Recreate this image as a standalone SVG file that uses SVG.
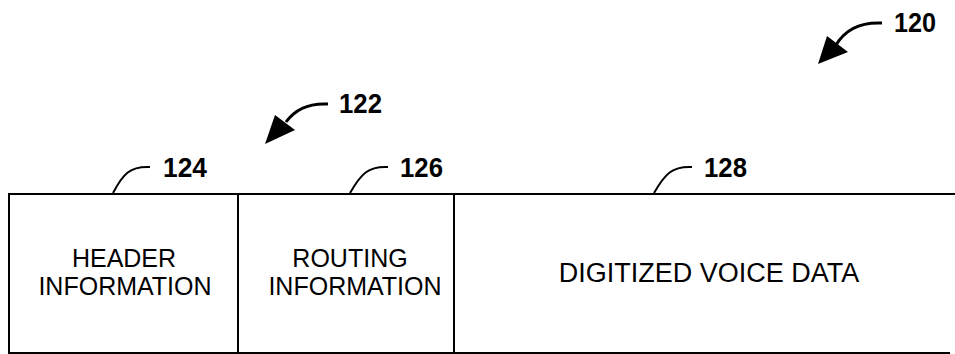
<svg xmlns="http://www.w3.org/2000/svg" width="955" height="354" viewBox="0 0 955 354">
<style>
.ln{fill:none;stroke:#000;stroke-width:2}
.ar{fill:none;stroke:#000;stroke-width:3}
.num{font-family:"Liberation Sans",Arial,sans-serif;font-weight:bold;font-size:28px;fill:#000}
.lbl{font-family:"Liberation Sans",Arial,sans-serif;font-size:25px;fill:#000;text-anchor:middle}
.head{fill:#000}
</style>
<rect width="955" height="354" fill="#fff"/>
<g id="connectors">
<path class="ar" d="M882,23 C862,22 846,28 836,45"/>
<polygon class="head" points="818,64 827,36 848,52"/>
<path class="ar" d="M328,104 C310,103 296,108 286,122"/>
<polygon class="head" points="265,144 275,115 295,130"/>
<path class="ln" d="M150,167 C130,166 123,174 113,193"/>
<path class="ln" d="M388,167 C368,166 361,174 350,193"/>
<path class="ln" d="M692,167 C672,166 665,174 654,193"/>
</g>
<g id="label-120"><text class="num" x="894" y="32" textLength="42" lengthAdjust="spacingAndGlyphs">120</text></g>
<g id="label-122"><text class="num" x="339" y="113" textLength="43" lengthAdjust="spacingAndGlyphs">122</text></g>
<g id="label-124"><text class="num" x="163" y="177" textLength="44" lengthAdjust="spacingAndGlyphs">124</text></g>
<g id="label-126"><text class="num" x="400" y="177" textLength="43" lengthAdjust="spacingAndGlyphs">126</text></g>
<g id="label-128"><text class="num" x="704" y="177" textLength="43" lengthAdjust="spacingAndGlyphs">128</text></g>
<g id="packet">
<path class="ln" d="M955,194 L9,194 L9,353 L950,353"/>
</g>
<g id="node-124">
<line class="ln" x1="238" y1="194" x2="238" y2="353"/>
<text class="lbl" x="124" y="267">HEADER</text>
<text class="lbl" x="125" y="295">INFORMATION</text>
</g>
<g id="node-126">
<line class="ln" x1="454" y1="194" x2="454" y2="353"/>
<text class="lbl" x="350" y="267">ROUTING</text>
<text class="lbl" x="355" y="295">INFORMATION</text>
</g>
<g id="node-128">
<text class="lbl" x="709" y="282" style="font-size:27px">DIGITIZED VOICE DATA</text>
</g>
</svg>
